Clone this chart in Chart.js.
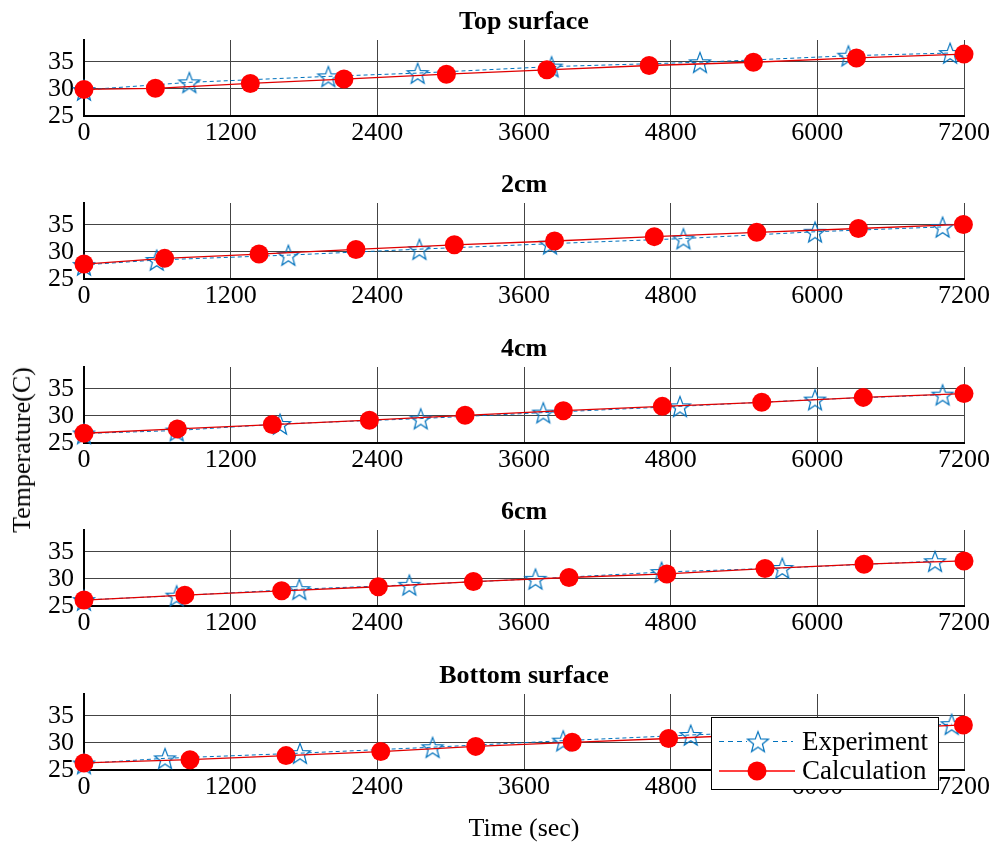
<!DOCTYPE html>
<html>
<head>
<meta charset="utf-8">
<script src="https://cdn.jsdelivr.net/npm/chart.js@4.4.0/dist/chart.umd.min.js"></script>
<style>
  body { margin: 0; background: #fff; }
  #fig { position: relative; width: 999px; height: 848px; overflow: hidden; background: #fff; }
  .panel { position: absolute; left: 0; }
  #ylabel {
    position: absolute; left: 22px; top: 450px;
    transform: translate(-50%, -50%) rotate(-90deg);
    font: 26px 'Liberation Serif', 'Times New Roman', serif;
    white-space: nowrap; color: #000;
  }
</style>
</head>
<body>
<div id="fig">
  <canvas class="panel" id="p0" width="999" height="156" style="top:0px"></canvas>
  <canvas class="panel" id="p1" width="999" height="156" style="top:163px"></canvas>
  <canvas class="panel" id="p2" width="999" height="156" style="top:327px"></canvas>
  <canvas class="panel" id="p3" width="999" height="156" style="top:490px"></canvas>
  <canvas class="panel" id="p4" width="999" height="196" style="top:654px"></canvas>
  <div id="ylabel">Temperature(C)</div>
</div>
<script>
// axis ticks
const timeTicks = [0, 1200, 2400, 3600, 4800, 6000, 7200];
const tempTicks = [25, 30, 35];
const panelTitles = ['Top surface', '2cm', '4cm', '6cm', 'Bottom surface'];
const seriesNames = ['Experiment', 'Calculation'];

// Top surface
const topExpTime = [0, 862, 1999, 2730, 3826, 5040, 6254, 7086];
const topExpTemp = [29.8, 31.2, 32.3, 32.9, 34.1, 34.9, 36.1, 36.6];
const topCalcTime = [0, 584, 1361, 2127, 2965, 3787, 4624, 5477, 6320, 7200];
const topCalcTemp = [29.9, 30.1, 31.0, 31.8, 32.7, 33.5, 34.3, 34.9, 35.7, 36.4];

// 2cm
const cm2ExpTime = [0, 595, 1672, 2744, 3813, 4904, 5981, 7025];
const cm2ExpTemp = [27.6, 28.5, 29.4, 30.5, 31.5, 32.45, 33.7, 34.6];
const cm2CalcTime = [0, 660, 1432, 2225, 3030, 3850, 4666, 5504, 6336, 7195];
const cm2CalcTemp = [27.75, 28.8, 29.6, 30.45, 31.3, 32.0, 32.8, 33.6, 34.3, 35.05];

// 4cm
const cm4ExpTime = [0, 758, 1604, 2755, 3758, 4876, 5981, 7025];
const cm4ExpTemp = [26.75, 27.3, 28.5, 29.5, 30.6, 31.75, 33.0, 33.9];
const cm4CalcTime = [0, 764, 1541, 2335, 3118, 3922, 4732, 5545, 6376, 7200];
const cm4CalcTemp = [26.8, 27.6, 28.4, 29.2, 30.1, 30.95, 31.75, 32.5, 33.4, 34.1];

// 6cm
const cm6ExpTime = [0, 758, 1762, 2662, 3694, 4726, 5713, 6963];
const cm6ExpTemp = [26.1, 26.9, 28.1, 28.9, 30.0, 31.25, 32.0, 33.25];
const cm6CalcTime = [0, 825, 1617, 2408, 3186, 3968, 4768, 5572, 6382, 7200];
const cm6CalcTemp = [26.1, 27.0, 27.8, 28.55, 29.5, 30.25, 30.9, 31.9, 32.7, 33.3];

// Bottom surface
const botExpTime = [0, 663, 1767, 2852, 3921, 4964, 6030, 7099];
const botExpTemp = [26.2, 27.15, 28.1, 29.2, 30.4, 31.45, 32.4, 33.45];
const botCalcTime = [0, 867, 1653, 2428, 3205, 3994, 4783, 5590, 6390, 7195];
const botCalcTemp = [26.3, 26.9, 27.65, 28.4, 29.35, 30.1, 30.8, 31.6, 32.5, 33.3];

const panels = [
  [topExpTime, topExpTemp, topCalcTime, topCalcTemp],
  [cm2ExpTime, cm2ExpTemp, cm2CalcTime, cm2CalcTemp],
  [cm4ExpTime, cm4ExpTemp, cm4CalcTime, cm4CalcTemp],
  [cm6ExpTime, cm6ExpTemp, cm6CalcTime, cm6CalcTemp],
  [botExpTime, botExpTemp, botCalcTime, botCalcTemp]
];

const FONT = "'Liberation Serif', 'Times New Roman', serif";
const BLUE = '#0072BD';
const RED = '#ff0000';

// hollow five-pointed star used as the experiment marker
function makeStar(r, color) {
  const size = Math.ceil(r * 2 + 4);
  const c = document.createElement('canvas');
  c.width = size; c.height = size;
  const ctx = c.getContext('2d');
  ctx.strokeStyle = color;
  ctx.lineWidth = 1.2;
  ctx.beginPath();
  for (let i = 0; i < 10; i++) {
    const rad = i % 2 === 0 ? r : r * 0.42;
    const a = -Math.PI / 2 + i * Math.PI / 5;
    const x = size / 2 + rad * Math.cos(a);
    const y = size / 2 + rad * Math.sin(a) + r * 0.1;
    if (i === 0) ctx.moveTo(x, y); else ctx.lineTo(x, y);
  }
  ctx.closePath();
  ctx.stroke();
  return c;
}
const starImg = makeStar(11, BLUE);

const toPoints = (xs, ys) => xs.map((x, i) => ({ x, y: ys[i] }));

// legend box drawn over the plot, like the MATLAB one
const boxLegend = {
  id: 'boxLegend',
  afterDraw(chart, args, opts) {
    if (!opts.show) return;
    const ctx = chart.ctx;
    const area = chart.chartArea;
    const left = area.right - 253, top = area.top + 23, w = 227, h = 72;
    ctx.save();
    ctx.fillStyle = '#fff';
    ctx.fillRect(left, top, w, h);
    ctx.strokeStyle = '#000';
    ctx.lineWidth = 1;
    ctx.strokeRect(left + 0.5, top + 0.5, w, h);
    const rows = [top + 24.5, top + 54];
    ctx.font = '27px ' + FONT;
    ctx.textBaseline = 'middle';
    // experiment row
    ctx.strokeStyle = BLUE;
    ctx.setLineDash([5, 4]);
    ctx.beginPath();
    ctx.moveTo(left + 8, rows[0]); ctx.lineTo(left + 82, rows[0]);
    ctx.stroke();
    ctx.setLineDash([]);
    ctx.fillStyle = '#fff';
    ctx.fillRect(left + 36, rows[0] - 10, 22, 20);
    ctx.drawImage(starImg, left + 47 - starImg.width / 2, rows[0] - starImg.height / 2);
    // calculation row
    ctx.strokeStyle = RED;
    ctx.lineWidth = 1.3;
    ctx.beginPath();
    ctx.moveTo(left + 8, rows[1]); ctx.lineTo(left + 84, rows[1]);
    ctx.stroke();
    ctx.fillStyle = RED;
    ctx.beginPath();
    ctx.arc(left + 46, rows[1], 9.5, 0, Math.PI * 2);
    ctx.fill();
    ctx.fillStyle = '#000';
    ctx.fillText(seriesNames[0], left + 91, rows[0] + 1);
    ctx.fillText(seriesNames[1], left + 91, rows[1] + 1);
    ctx.restore();
  }
};

panels.forEach((p, i) => {
  const last = i === panels.length - 1;
  new Chart(document.getElementById('p' + i), {
    type: 'line',
    data: {
      datasets: [
        {
          label: seriesNames[0],
          data: toPoints(p[0], p[1]),
          borderColor: BLUE,
          borderWidth: 1,
          borderDash: [4, 3],
          pointStyle: starImg,
          pointRadius: 10,
          backgroundColor: 'transparent',
          tension: 0,
          clip: false,
          order: 1
        },
        {
          label: seriesNames[1],
          data: toPoints(p[2], p[3]),
          borderColor: '#e00000',
          borderWidth: 1.3,
          pointStyle: 'circle',
          pointRadius: 9.5,
          pointBackgroundColor: RED,
          pointBorderColor: RED,
          pointBorderWidth: 0,
          tension: 0,
          clip: false,
          order: 0
        }
      ]
    },
    options: {
      responsive: false,
      animation: false,
      events: [],
      layout: { padding: { left: 0, right: 35, top: 0, bottom: 0 } },
      plugins: {
        legend: { display: false },
        tooltip: { enabled: false },
        title: {
          display: true,
          text: panelTitles[i],
          fullSize: false,
          color: '#000',
          font: { family: FONT, size: 26, weight: 'bold', lineHeight: 1 },
          padding: { top: 9, bottom: 5 }
        },
        boxLegend: { show: last }
      },
      scales: {
        x: {
          type: 'linear',
          min: 0,
          max: 7200,
          afterBuildTicks: s => { s.ticks = timeTicks.map(v => ({ value: v })); },
          afterFit: s => { s.height = last ? 80 : 40; s.paddingLeft = 0; s.paddingRight = 0; },
          grid: { color: '#444', lineWidth: 1, drawTicks: false },
          border: { color: '#000', width: 2 },
          ticks: {
            color: '#000',
            font: { family: FONT, size: 26 },
            padding: 2,
            maxRotation: 0,
            autoSkip: false,
            callback: v => String(v)
          },
          title: {
            display: last,
            text: 'Time (sec)',
            color: '#000',
            font: { family: FONT, size: 26 },
            padding: { top: 0, bottom: 5 }
          }
        },
        y: {
          type: 'linear',
          min: 25,
          max: 39,
          afterBuildTicks: s => { s.ticks = tempTicks.map(v => ({ value: v })); },
          afterFit: s => { s.width = 84; s.paddingTop = 0; s.paddingBottom = 0; },
          grid: { color: '#444', lineWidth: 1, drawTicks: false },
          border: { color: '#000', width: 2 },
          ticks: { color: '#000', font: { family: FONT, size: 26 }, padding: 10, callback: v => String(v) }
        }
      }
    },
    plugins: [boxLegend]
  });
});
</script>
</body>
</html>
